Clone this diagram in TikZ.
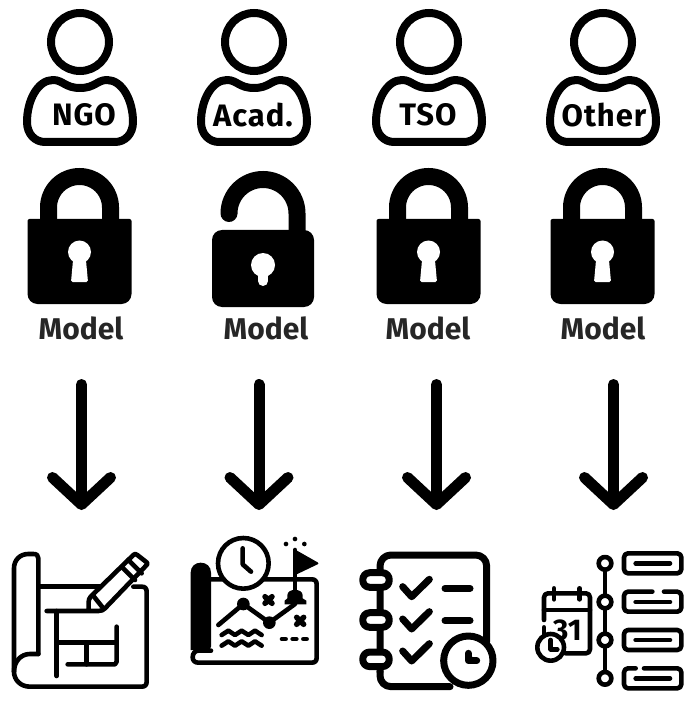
\documentclass[tikz,border=0pt]{standalone}
\usepackage{fontspec}
\setmainfont{Fira Sans}
\newfontfamily\widefont[LetterSpace=3]{Fira Sans}
\usetikzlibrary{arrows.meta}
\tikzset{
  lbl/.style={font=\widefont\fontsize{31}{32}\selectfont\bfseries,inner sep=0pt,text=black},
  modellbl/.style={font=\fontsize{30}{32}\selectfont\bfseries,inner sep=0pt,text=black!85},
  flow/.style={line width=11pt,-{Straight Barb[length=27pt,width=58pt,line width=11pt,round]},line cap=round},
  ic/.style={line width=4.6pt,line cap=round,line join=round},
  person/.pic={
    \draw[line width=8pt] (0,42) circle[radius=29];
    \draw[line width=8pt,line join=round] (-27,80) .. controls (-17,80) and (-15,88) .. (0,88) .. controls (15,88) and (17,80) .. (27,80) .. controls (42,80) and (53,100) .. (53,122) .. controls (53,134) and (45,142) .. (35,142) -- (-35,142) .. controls (-45,142) and (-53,134) .. (-53,122) .. controls (-53,100) and (-42,80) .. (-27,80) -- cycle;
  },
  lockclosed/.pic={
    \draw[line width=17pt] (-31,225) -- (-31,207.5) .. controls (-31,190.4) and (-17.1,176.5) .. (0,176.5) .. controls (17.1,176.5) and (31,190.4) .. (31,207.5) -- (31,225);
    \fill[rounded corners=2pt] (-52,219) -- (52,219) [rounded corners=10pt] -- (52,304) -- (-52,304) [rounded corners=2pt] -- cycle;
    \fill[white] (0,252) circle[radius=11.5];
    \fill[white,rounded corners=1.5pt] (-6,255) -- (6,255) -- (8.5,282) -- (-8.5,282) -- cycle;
  },
  lockopen/.pic={
    \draw[line width=17pt,line cap=round] (-34,213.5) .. controls (-34,194.7) and (-18.8,179.5) .. (0,179.5) .. controls (18.8,179.5) and (34,194.7) .. (34,213.5) -- (34,235);
    \fill[rounded corners=10pt] (-51,230) -- (51,230) -- (51,307) -- (-51,307) -- cycle;
    \fill[white] (0,265) circle[radius=12];
    \draw[white,line width=10pt,line cap=round] (0,268) -- (0,281);
  }
}
\begin{document}
\begin{tikzpicture}[x=1pt,y=-1pt]
\useasboundingbox (0,0) rectangle (684,708);
% people
\pic at (80,0) {person};
\pic at (254,0) {person};
\pic at (429,0) {person};
\pic at (603,0) {person};
\node[lbl] (n1) at (84,115) {NGO};
\node[lbl] (n2) at (253,115) {Acad.};
\node[lbl] (n3) at (428,115) {TSO};
\node[lbl] (n4) at (604,115) {Other};
% locks
\pic at (79.5,0) {lockclosed};
\pic at (263,0) {lockopen};
\pic at (428.5,0) {lockclosed};
\pic at (602.5,0) {lockclosed};
\node[modellbl] (m1) at (81,328) {Model};
\node[modellbl] (m2) at (266,328) {Model};
\node[modellbl] (m3) at (428,328) {Model};
\node[modellbl] (m4) at (603,328) {Model};
% arrows
\foreach \i/\x in {1/81.5,2/259,3/436.5,4/613.5}{
  \coordinate (a\i) at (\x,384.5);
  \coordinate (b\i) at (\x,510);
  \draw[flow] (a\i) -- (b\i);
}
% icon 1: blueprint
\begin{scope}[shift={(0,530)},x=0.33333pt,y=-0.33333pt,ic]
  \draw (300,170) -- (115,170);
  \draw (115,372) -- (115,85) .. controls (115,76) and (110,72) .. (100,72) -- (85,72) .. controls (60,72) and (42,90) .. (42,115) -- (42,425) .. controls (42,450) and (62,470) .. (90,470) -- (425,470) .. controls (435,470) and (440,465) .. (440,455) -- (440,185) .. controls (440,175) and (435,170) .. (425,170) -- (400,170);
  \draw (115,372) -- (90,372) .. controls (62,372) and (42,395) .. (42,425);
  \draw (140,243) -- (295,243) .. controls (305,243) and (310,240) .. (315,235) -- (440,105) .. controls (443,102) and (443,100) .. (440,97) -- (412,75) .. controls (408,71) and (404,71) .. (400,75) -- (272,200) .. controls (268,205) and (266,210) .. (266,215) -- (266,243);
  \draw (278,195) -- (310,235);
  \draw (365,110) -- (405,150);
  \draw (385,90) -- (425,130);
  \draw (170,243) -- (170,438);
  \draw (170,338) -- (350,338);
  \draw (350,290) -- (350,395) -- (345,403) -- (203,403);
  \draw (260,338) -- (260,403);
\end{scope}
% icon 2: map
\begin{scope}[shift={(180,530)},x=0.33333pt,y=-0.33333pt,ic]
  \draw (93,148) -- (395,148) .. controls (405,148) and (410,153) .. (410,163) -- (410,383) .. controls (410,393) and (405,398) .. (395,398) -- (55,398) .. controls (45,398) and (38,392) .. (38,382) .. controls (38,370) and (45,362) .. (55,362) -- (93,362);
  \fill (32,128) .. controls (32,110) and (45,98) .. (62,98) .. controls (80,98) and (93,110) .. (93,128) -- (93,350) .. controls (93,356) and (88,360) .. (82,360) -- (32,360) -- cycle;
  \draw[fill=white] (190,100) circle[radius=76];
  \draw (188,55) -- (188,103) -- (213,125);
  \draw (345,60) -- (345,200);
  \fill[draw,line width=2pt] (345,62) -- (412,100) -- (345,132) -- cycle;
  \fill (314,223) -- (314,212) -- (322,205) -- (322,196) .. controls (322,174) and (368,174) .. (368,196) -- (368,205) -- (379,212) -- (379,223) -- cycle;
  \fill (318,42) circle[radius=7] (345,27) circle[radius=7] (373,42) circle[radius=7];
  \draw (115,285) -- (190,222) -- (268,278) -- (345,222);
  \fill (190,222) circle[radius=19] (268,278) circle[radius=19];
  \draw[line width=5.5pt] (255,200) -- (276,220) (276,200) -- (255,220);
  \draw[line width=5.5pt] (350,262) -- (371,283) (371,262) -- (350,283);
  \foreach \y in {310,342}{
    \draw (125,\y+5) -- (145,\y-8) -- (165,\y+5) -- (185,\y-8) -- (205,\y+5) -- (225,\y-8) -- (245,\y+5);
  }
  \draw (306,327) -- (317,327) (338,327) -- (349,327) (370,327) -- (380,327);
\end{scope}
% icon 3: checklist
\begin{scope}[shift={(350,540)},x=0.33333pt,y=-0.33333pt,line width=7pt,line cap=round,line join=round]
  \draw[rounded corners=11pt] (90,395) -- (90,45) -- (410,45) -- (410,305);
  \draw[rounded corners=11pt] (90,395) -- (90,440) -- (300,440);
  \foreach \y in {120,240,358}{
    \draw[fill=white] (60,\y-22) -- (96,\y-22) .. controls (125,\y-22) and (125,\y+22) .. (96,\y+22) -- (60,\y+22) .. controls (31,\y+22) and (31,\y-22) .. (60,\y-22) -- cycle;
  }
  \foreach \y in {0,97,193}{
    \draw (158,140+\y) -- (185,170+\y) -- (238,118+\y);
  }
  \draw (285,145) -- (360,145) (285,242) -- (360,242);
  \draw[fill=white] (355,362) circle[radius=74];
  \draw[fill] (355,340) -- (355,362) -- (380,362);
\end{scope}
% icon 4: timeline
\begin{scope}[shift={(524,540)},x=0.33333pt,y=-0.33333pt,ic]
  \draw (243,70) -- (243,415);
  \foreach \y in {70,186,300,415}{
    \draw[fill=white] (243,\y) circle[radius=19];
    \draw (335,\y) -- (438,\y);
  }
  \draw[rounded corners=4pt] (300,40) rectangle (472,100);
  \draw[rounded corners=4pt] (385,155) -- (300,155) -- (300,215) -- (472,215) -- (472,155) -- (420,155);
  \draw[rounded corners=4pt] (300,270) rectangle (472,330);
  \draw[rounded corners=4pt] (335,385) -- (300,385) -- (300,445) -- (472,445) -- (472,385) -- (360,385);
  \draw[rounded corners=4pt] (60,240) -- (60,160) -- (198,160) -- (198,340) -- (125,340);
  \draw (60,210) -- (198,210);
  \draw (60,262) -- (60,290);
  \draw (90,145) -- (90,178) (167,145) -- (167,178);
  \node[font=\fontsize{30}{30}\selectfont,inner sep=0pt] (d) at (130,272) {\textbf{31}};
  \draw[fill=white] (80,322) circle[radius=40];
  \draw (80,300) -- (80,328) -- (100,328);
\end{scope}
\end{tikzpicture}
\end{document}
